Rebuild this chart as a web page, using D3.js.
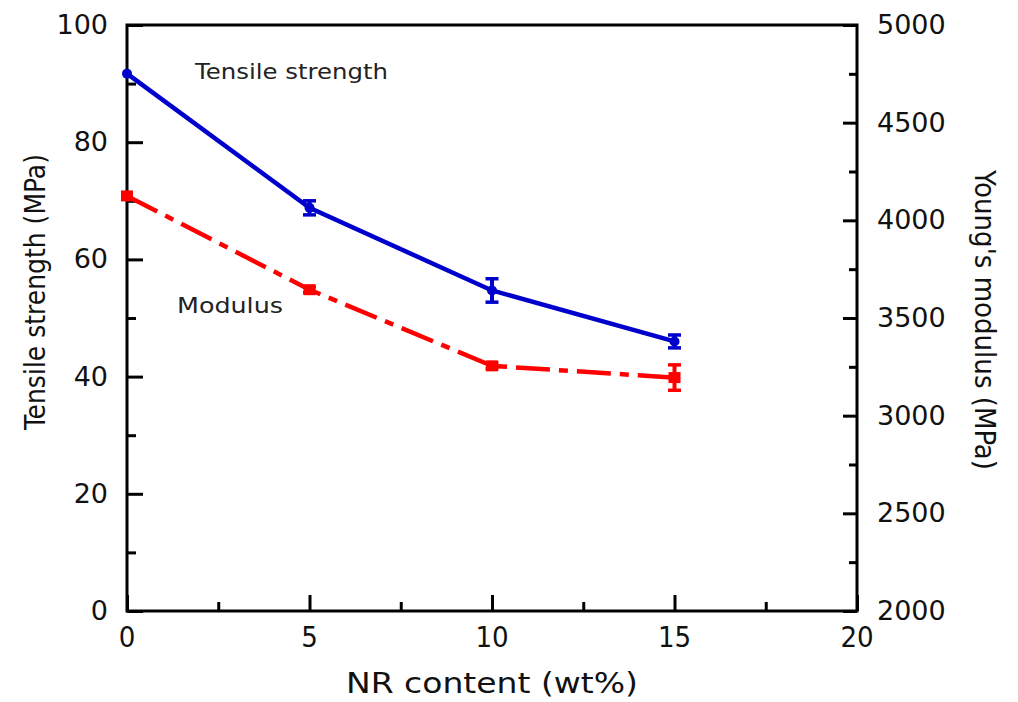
<!DOCTYPE html>
<html>
<head>
<meta charset="utf-8">
<script src="https://cdn.jsdelivr.net/npm/d3@7"></script>
<style>
  body { margin: 0; background: #fff; }
  svg text { fill: #111; }
</style>
</head>
<body>
<svg id="chart" width="1018" height="702"></svg>
<script>
// data
const nrContent = [0, 5, 10, 15]
const tensile = [91.7, 68.8, 54.7, 46.0]
const tensileErr = [0.4, 1.2, 2.0, 1.1]
const modulus = [4125, 3645, 3255, 3195]
const modulusErr = [10, 15, 15, 65]
const xTicks = [0, 5, 10, 15, 20]
const leftTicks = [0, 20, 40, 60, 80, 100]
const rightTicks = [2000, 2500, 3000, 3500, 4000, 4500, 5000]

const svg = d3.select("#chart")
const m = { left: 127, right: 161, top: 25, bottom: 91 }
const W = 1018 - m.left - m.right
const H = 702 - m.top - m.bottom

const x = d3.scaleLinear().domain([0, 20]).range([0, W])
const yL = d3.scaleLinear().domain([0, 100]).range([H, 0])
const yR = d3.scaleLinear().domain([2000, 5000]).range([H, 0])

const g = svg.append("g").attr("transform", "translate(" + m.left + "," + m.top + ")")

// frame
g.append("rect")
    .attr("width", W)
    .attr("height", H)
    .attr("fill", "none")
    .attr("stroke", "black")
    .attr("stroke-width", 3)

function styleAxis(sel) {
    sel.select(".domain").remove()
    sel.selectAll("line").attr("stroke", "black").attr("stroke-width", 3)
}

const narrow = "'Liberation Sans Narrow', 'DejaVu Sans Condensed', sans-serif"

// bottom axis: major + minor ticks pointing in
const xMinor = g.append("g").attr("transform", "translate(0," + H + ")")
    .call(d3.axisTop(x).tickValues(d3.range(2.5, 20, 5)).tickSize(9).tickFormat(""))
styleAxis(xMinor)
const xAxis = g.append("g").attr("transform", "translate(0," + H + ")")
    .call(d3.axisTop(x).tickValues(xTicks).tickSize(16).tickFormat(""))
styleAxis(xAxis)
g.selectAll(".xlab")
    .data(xTicks)
    .enter()
    .append("text")
    .attr("class", "xlab")
    .attr("x", (d) => x(d))
    .attr("y", H + 36)
    .attr("text-anchor", "middle")
    .style("font-family", narrow)
    .style("font-size", "29px")
    .text((d) => d)

// left axis
const yLMinor = g.append("g")
    .call(d3.axisRight(yL).tickValues(d3.range(10, 100, 20)).tickSize(9).tickFormat(""))
styleAxis(yLMinor)
const yLAxis = g.append("g")
    .call(d3.axisRight(yL).tickValues(leftTicks).tickSize(16).tickFormat(""))
styleAxis(yLAxis)
g.selectAll(".ylab")
    .data(leftTicks)
    .enter()
    .append("text")
    .attr("class", "ylab")
    .attr("x", -19)
    .attr("y", (d) => yL(d) + 9)
    .attr("text-anchor", "end")
    .style("font-family", "'DejaVu Sans', sans-serif")
    .style("font-size", "27px")
    .text((d) => d)

// right axis
const yRMinor = g.append("g").attr("transform", "translate(" + W + ",0)")
    .call(d3.axisLeft(yR).tickValues(d3.range(2250, 5000, 500)).tickSize(8).tickFormat(""))
styleAxis(yRMinor)
const yRAxis = g.append("g").attr("transform", "translate(" + W + ",0)")
    .call(d3.axisLeft(yR).tickValues(rightTicks).tickSize(14).tickFormat(""))
styleAxis(yRAxis)
g.selectAll(".yrlab")
    .data(rightTicks)
    .enter()
    .append("text")
    .attr("class", "yrlab")
    .attr("x", W + 20)
    .attr("y", (d) => yR(d) + 9)
    .attr("text-anchor", "start")
    .style("font-family", "'DejaVu Sans', sans-serif")
    .style("font-size", "27px")
    .text((d) => d)

// axis titles
svg.append("text")
    .attr("transform", "translate(45,292) rotate(-90)")
    .attr("text-anchor", "middle")
    .attr("textLength", 276)
    .attr("lengthAdjust", "spacingAndGlyphs")
    .style("font-family", narrow)
    .style("font-size", "29px")
    .text("Tensile strength (MPa)")
svg.append("text")
    .attr("transform", "translate(975,320) rotate(90)")
    .attr("text-anchor", "middle")
    .attr("textLength", 300)
    .attr("lengthAdjust", "spacingAndGlyphs")
    .style("font-family", narrow)
    .style("font-size", "29px")
    .text("Young's modulus (MPa)")
svg.append("text")
    .attr("x", m.left + W / 2)
    .attr("y", 693)
    .attr("text-anchor", "middle")
    .attr("textLength", 292)
    .attr("lengthAdjust", "spacingAndGlyphs")
    .style("font-family", narrow)
    .style("font-size", "29px")
    .text("NR content (wt%)")

// series
const ts = nrContent.map((d, i) => ({ x: d, y: tensile[i], e: tensileErr[i] }))
const ms = nrContent.map((d, i) => ({ x: d, y: modulus[i], e: modulusErr[i] }))

g.append("path")
    .datum(ms)
    .attr("fill", "none")
    .attr("stroke", "#ff0000")
    .attr("stroke-width", 4.5)
    .attr("stroke-dasharray", "34,9,9,9")
    .attr("d", d3.line().x((d) => x(d.x)).y((d) => yR(d.y)))

g.append("path")
    .datum(ts)
    .attr("fill", "none")
    .attr("stroke", "#0000cc")
    .attr("stroke-width", 4.5)
    .attr("d", d3.line().x((d) => x(d.x)).y((d) => yL(d.y)))

function errorBars(data, yScale, color) {
    const eb = g.append("g")
    eb.selectAll(".v").data(data).enter().append("line")
        .attr("x1", (d) => x(d.x)).attr("x2", (d) => x(d.x))
        .attr("y1", (d) => yScale(d.y - d.e)).attr("y2", (d) => yScale(d.y + d.e))
        .attr("stroke", color).attr("stroke-width", 4)
    eb.selectAll(".t").data(data).enter().append("line")
        .attr("x1", (d) => x(d.x) - 6.5).attr("x2", (d) => x(d.x) + 6.5)
        .attr("y1", (d) => yScale(d.y + d.e)).attr("y2", (d) => yScale(d.y + d.e))
        .attr("stroke", color).attr("stroke-width", 3.5)
    eb.selectAll(".b").data(data).enter().append("line")
        .attr("x1", (d) => x(d.x) - 6.5).attr("x2", (d) => x(d.x) + 6.5)
        .attr("y1", (d) => yScale(d.y - d.e)).attr("y2", (d) => yScale(d.y - d.e))
        .attr("stroke", color).attr("stroke-width", 3.5)
}
errorBars(ms.slice(1), yR, "#ff0000")
errorBars(ts.slice(1), yL, "#0000cc")

g.selectAll(".msq")
    .data(ms)
    .enter()
    .append("rect")
    .attr("class", "msq")
    .attr("x", (d) => x(d.x) - 6)
    .attr("y", (d) => yR(d.y) - 5.5)
    .attr("width", 12)
    .attr("height", 11)
    .attr("fill", "#ff0000")

g.selectAll(".tci")
    .data(ts)
    .enter()
    .append("circle")
    .attr("class", "tci")
    .attr("cx", (d) => x(d.x))
    .attr("cy", (d) => yL(d.y))
    .attr("r", 5)
    .attr("fill", "#0000cc")

// annotations
svg.append("text")
    .attr("x", 195)
    .attr("y", 79)
    .attr("textLength", 193)
    .attr("lengthAdjust", "spacingAndGlyphs")
    .style("font-family", "'DejaVu Sans', sans-serif")
    .style("font-size", "22px")
    .style("fill", "#222")
    .text("Tensile strength")
svg.append("text")
    .attr("x", 177)
    .attr("y", 313)
    .attr("textLength", 106)
    .attr("lengthAdjust", "spacingAndGlyphs")
    .style("font-family", "'DejaVu Sans', sans-serif")
    .style("font-size", "21px")
    .style("fill", "#222")
    .text("Modulus")
</script>
</body>
</html>
